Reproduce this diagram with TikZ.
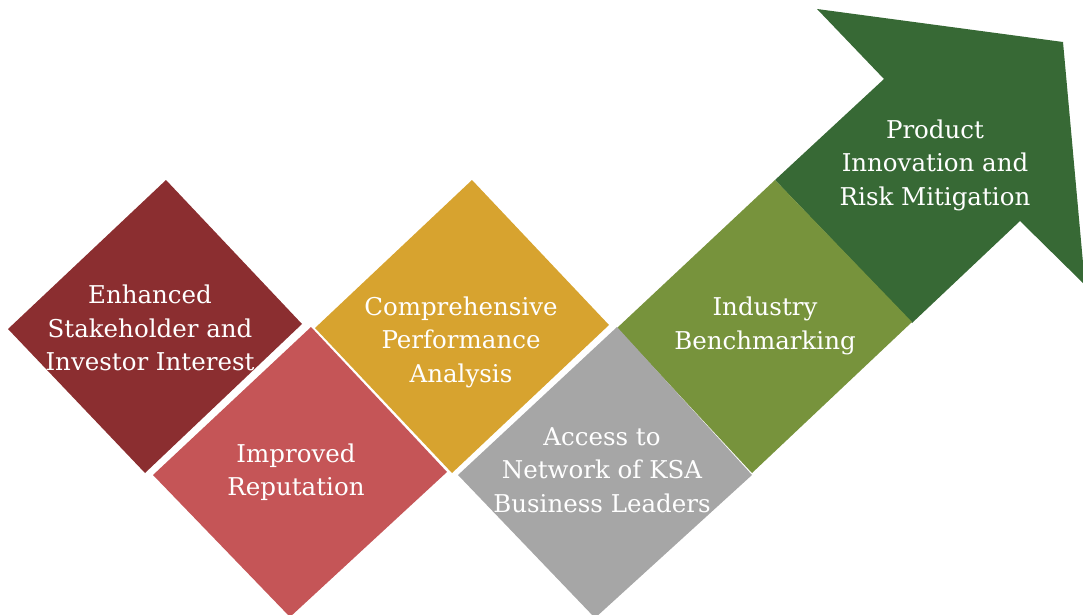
\documentclass[tikz,border=0pt]{standalone}
\usepackage{fontspec}
\setmainfont{DejaVu Serif}
\definecolor{cDarkRed}{HTML}{8B2E30}
\definecolor{cRed}{HTML}{C55557}
\definecolor{cGold}{HTML}{D7A32F}
\definecolor{cGray}{HTML}{A6A6A6}
\definecolor{cOlive}{HTML}{77933C}
\definecolor{cGreen}{HTML}{376935}
\tikzset{
  lbl/.style={text=white, align=center, font=\fontsize{24.5}{33.5}\selectfont, inner sep=0pt},
}
\begin{document}
\begin{tikzpicture}[x=1pt,y=-1pt]
\useasboundingbox (0,0) rectangle (1083,615);
\clip (0,0) rectangle (1083,615);
% arrow
\fill[cGreen] (817,9) -- (1063,42) -- (1085,285) -- (1020,221) -- (912,323) -- (775,180) -- (884,79) -- cycle;
% diamonds
\fill[cDarkRed] (166,180) -- (302,324) -- (145,473) -- (8,329) -- cycle;
\fill[cGold] (472,180) -- (609,325) -- (452,473) -- (315,328) -- cycle;
\fill[cOlive] (775,180) -- (912,322) -- (752,473) -- (617,328) -- cycle;
\fill[cRed] (311,327) -- (447,472) -- (290,617) -- (153,475) -- cycle;
\fill[cGray] (617,327) -- (752,475) -- (595,618) -- (458,475) -- cycle;
% labels
\node[lbl] (t1) at (150,328) {Enhanced\\Stakeholder and\\Investor Interest};
\node[lbl] (t2) at (296,472) {Improved\\Reputation};
\node[lbl] (t3) at (461,342) {Comprehensive\\Performance\\Analysis};
\node[lbl] (t4) at (602,470) {Access to\\Network of KSA\\Business Leaders};
\node[lbl] (t5) at (765,326) {Industry\\Benchmarking};
\node[lbl] (t6) at (935,165) {Product\\Innovation and\\Risk Mitigation};
\end{tikzpicture}
\end{document}
